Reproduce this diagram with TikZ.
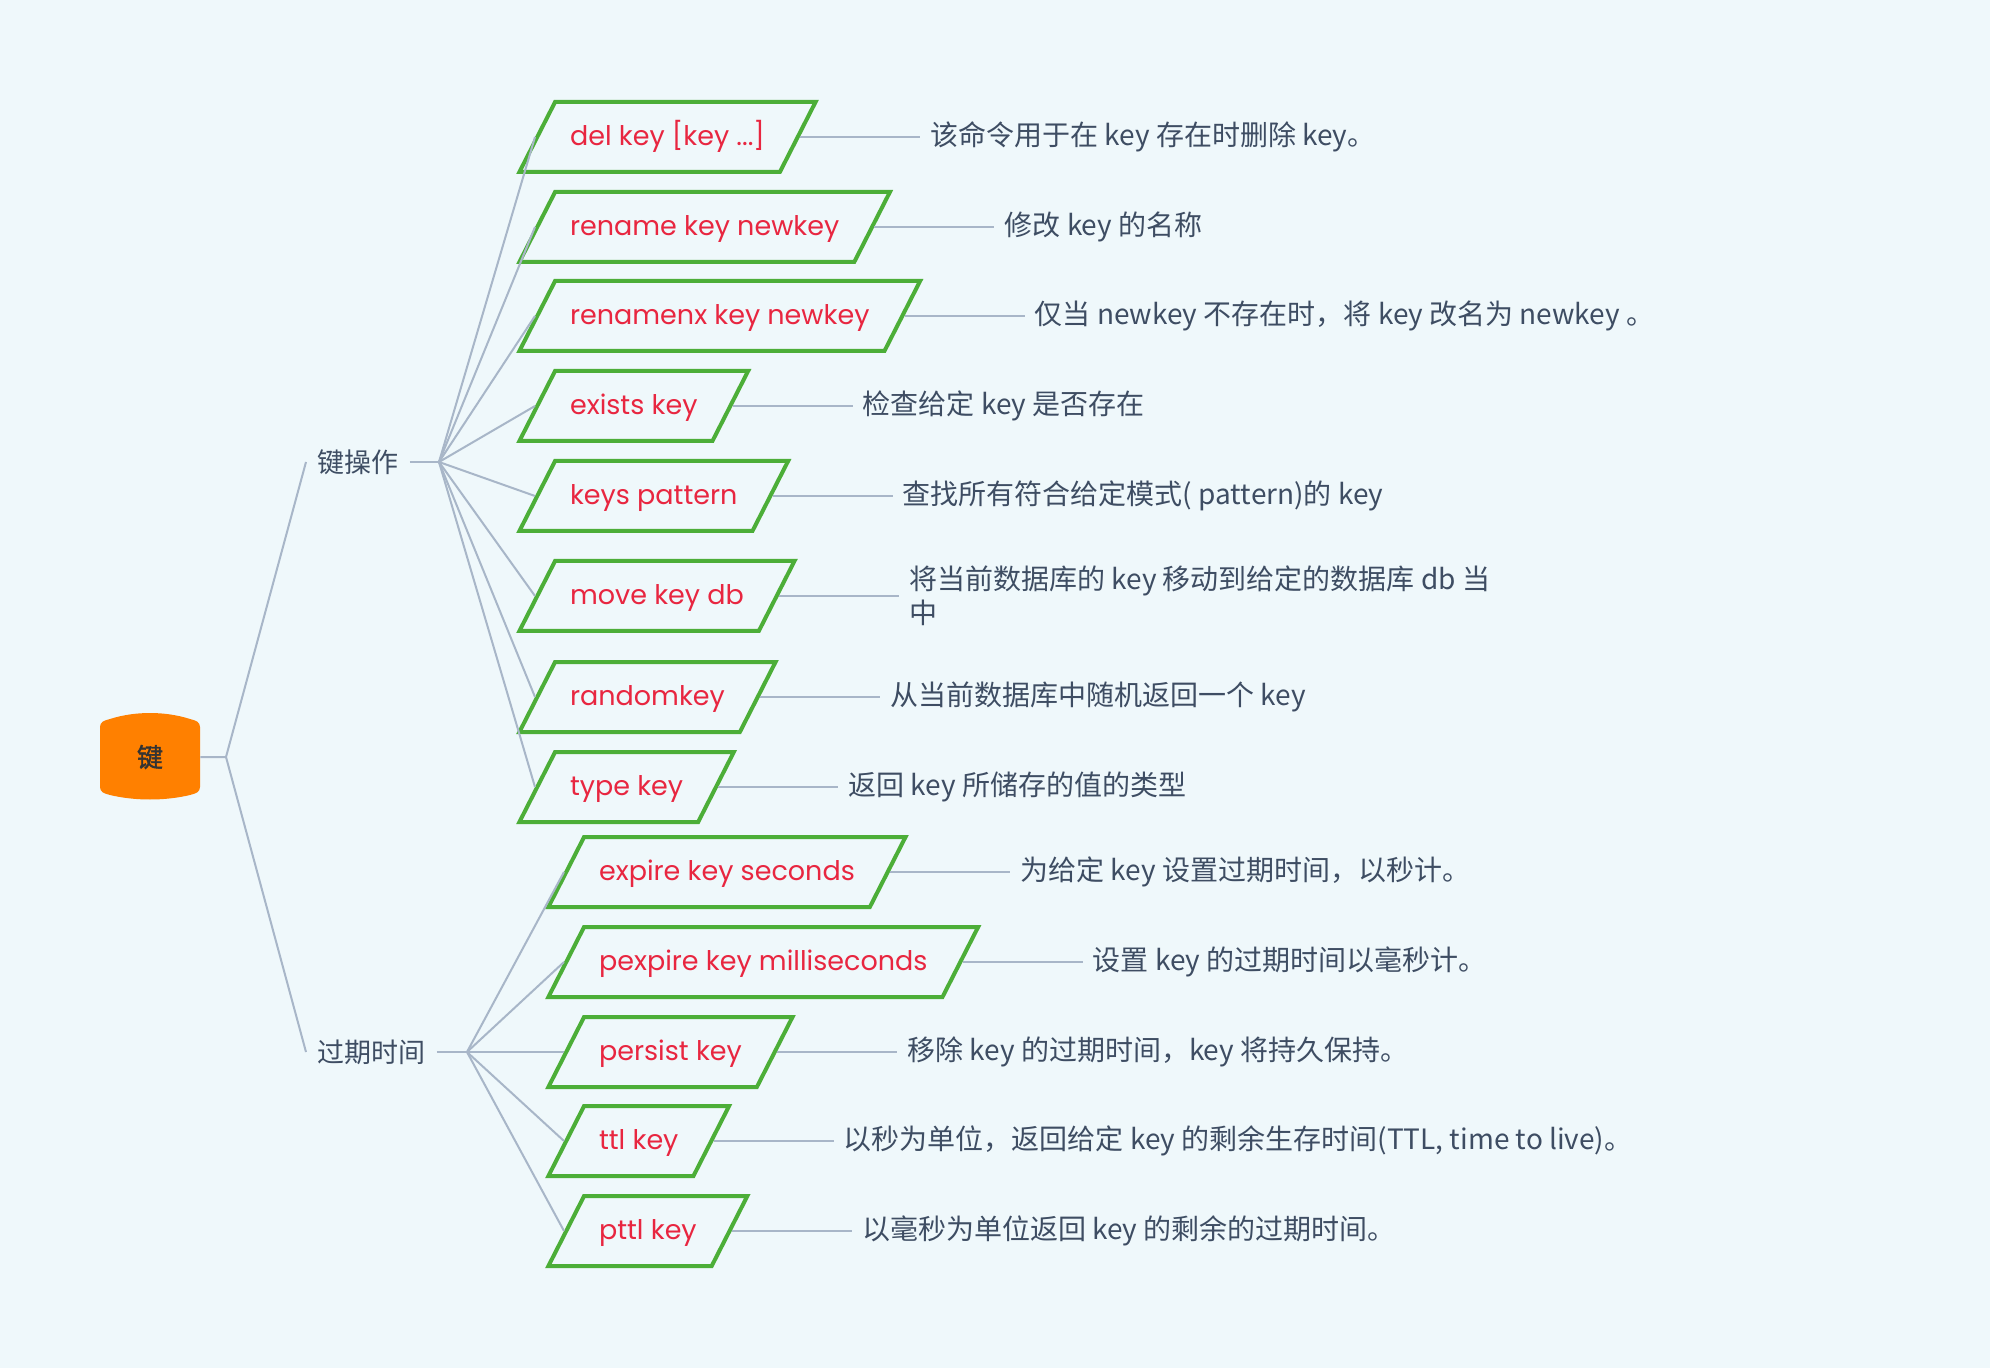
\documentclass[tikz,border=0pt]{standalone}
\usepackage{fontspec}
\usepackage{tikz}
\usetikzlibrary{shapes.geometric,positioning}
\newfontfamily\leaffont{Poppins}
\newfontfamily\cjk{Noto Sans CJK SC}
\newfontfamily\cjkbold[FakeBold=1.5]{Noto Sans CJK SC}
\definecolor{bgcol}{RGB}{239,248,251}
\definecolor{linkcol}{RGB}{168,182,200}
\definecolor{leafgreen}{RGB}{76,174,56}
\definecolor{leafred}{RGB}{232,38,64}
\definecolor{desccol}{RGB}{62,77,99}
\definecolor{rootorange}{RGB}{255,128,0}
\definecolor{roottext}{RGB}{51,51,51}

\begin{document}
\begin{tikzpicture}[x=0.5pt,y=-0.5pt,
  link/.style={draw=linkcol,line width=1pt},
  leaf/.style={trapezium,trapezium left angle=63,trapezium right angle=117,
    draw=leafgreen,line width=2pt,text=leafred,font=\leaffont\fontsize{13.5pt}{16pt}\selectfont,
    inner xsep=7.5pt,inner ysep=10.75pt,text height=11.1pt,text depth=2.4pt,anchor=left side},
  desc/.style={text=desccol,font=\cjk\fontsize{14pt}{17pt}\selectfont,inner xsep=5pt,align=left},
  branch/.style={text=desccol,font=\cjk\fontsize{13.5pt}{16pt}\selectfont,inner xsep=5.5pt,anchor=west}]
  \fill[bgcol] (0,0) rectangle (1990,1368);
  \useasboundingbox (0,0) rectangle (1990,1368);

  % root
  \fill[rootorange] (100,787) -- (100,727) .. controls (100,722) and (104,720.5) .. (110,719)
    .. controls (135,711) and (165,711) .. (190,719) .. controls (196,720.5) and (200,722) .. (200,727)
    -- (200,787) .. controls (200,792) and (196,793.5) .. (190,795)
    .. controls (165,801) and (135,801) .. (110,795) .. controls (104,793.5) and (100,792) .. (100,787) -- cycle;
  \node[text=roottext,font=\cjkbold\fontsize{13pt}{16pt}\selectfont,minimum width=50pt,inner sep=0pt] (root) at (150,757) {键};
  \coordinate (rj) at (226,757);

  \node[branch] (ops) at (306,462) {键操作};
  \node[branch] (exp) at (306,1052) {过期时间};
  \coordinate (opsj) at (439,462);
  \coordinate (expj) at (467,1052);

  \draw[link] (root.east) -- (rj) -- (ops.west);
  \draw[link] (rj) -- (exp.west);
  \draw[link] (ops.east) -- (opsj);
  \draw[link] (exp.east) -- (expj);

  % key commands
  \node[leaf] (k1) at (535,137) {del key [key ...]};
  \node[leaf] (k2) at (535,227) {rename key newkey};
  \node[leaf] (k3) at (535,316) {renamenx key newkey};
  \node[leaf] (k4) at (535,406) {exists key};
  \node[leaf] (k5) at (535,496) {keys pattern};
  \node[leaf] (k6) at (535,596) {move key db};
  \node[leaf] (k7) at (535,697) {randomkey};
  \node[leaf] (k8) at (535,787) {type key};

  % expiry commands
  \node[leaf] (e1) at (564,872) {expire key seconds};
  \node[leaf] (e2) at (564,962) {pexpire key milliseconds};
  \node[leaf] (e3) at (564,1052) {persist key};
  \node[leaf] (e4) at (564,1141) {ttl key};
  \node[leaf] (e5) at (564,1231) {pttl key};

  \foreach \k in {k1,k2,k3,k4,k5,k6,k7,k8}
    \draw[link] (opsj) -- (\k.left side);
  \foreach \k in {e1,e2,e3,e4,e5}
    \draw[link] (expj) -- (\k.left side);

  % descriptions
  \node[desc,right=60pt of k1.right side] (tk1) {该命令用于在 key 存在时删除 key。};
  \node[desc,right=60pt of k2.right side] (tk2) {修改 key 的名称};
  \node[desc,right=60pt of k3.right side] (tk3) {仅当 newkey 不存在时，将 key 改名为 newkey 。};
  \node[desc,right=60pt of k4.right side] (tk4) {检查给定 key 是否存在};
  \node[desc,right=60pt of k5.right side] (tk5) {查找所有符合给定模式( pattern)的 key};
  \node[desc,right=60pt of k6.right side] (tk6) {将当前数据库的 key 移动到给定的数据库 db 当\\中};
  \node[desc,right=60pt of k7.right side] (tk7) {从当前数据库中随机返回一个 key};
  \node[desc,right=60pt of k8.right side] (tk8) {返回 key 所储存的值的类型};
  \node[desc,right=60pt of e1.right side] (te1) {为给定 key 设置过期时间，以秒计。};
  \node[desc,right=60pt of e2.right side] (te2) {设置 key 的过期时间以毫秒计。};
  \node[desc,right=60pt of e3.right side] (te3) {移除 key 的过期时间，key 将持久保持。};
  \node[desc,right=60pt of e4.right side] (te4) {以秒为单位，返回给定 key 的剩余生存时间(TTL, time to live)。};
  \node[desc,right=60pt of e5.right side] (te5) {以毫秒为单位返回 key 的剩余的过期时间。};

  \foreach \k in {k1,k2,k3,k4,k5,k6,k7,k8,e1,e2,e3,e4,e5}
    \draw[link] (\k.right side) -- (t\k.west);
\end{tikzpicture}
\end{document}
